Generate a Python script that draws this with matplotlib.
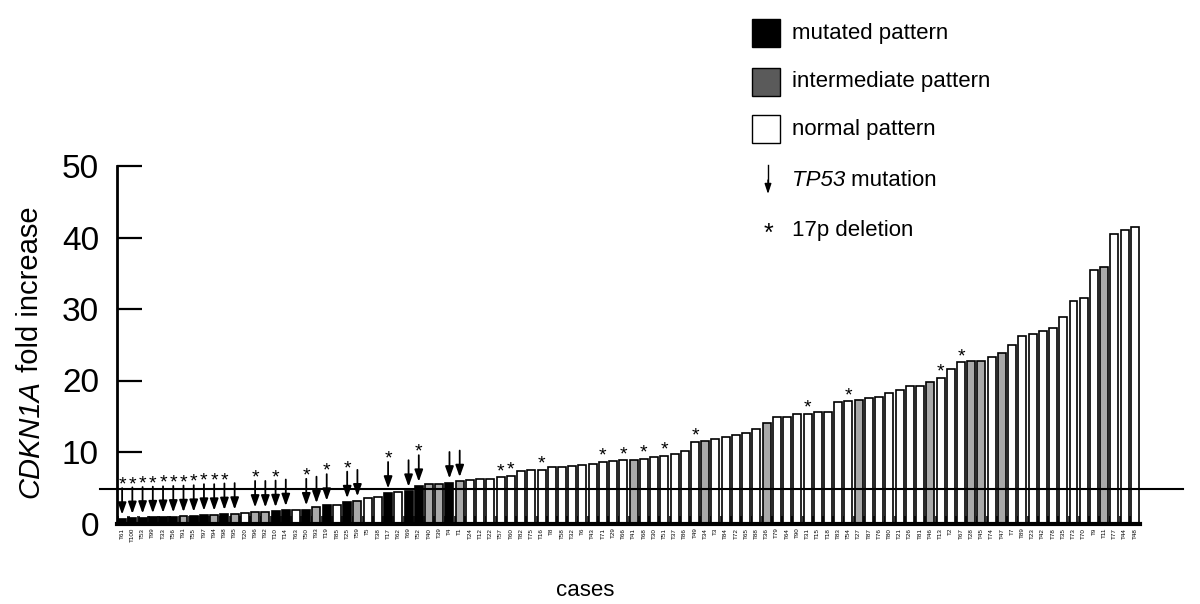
import matplotlib.pyplot as plt
from matplotlib.patches import Rectangle

plt.rcParams['font.family'] = ['Liberation Sans', 'DejaVu Sans']

# cases, ordered by fold increase
cases = ['T61', 'T100', 'T53', 'T99', 'T33', 'T56', 'T91', 'T55', 'T97', 'T94',
         'T98', 'T95', 'T20', 'T96', 'T92', 'T10', 'T14', 'T63', 'T50', 'T93',
         'T19', 'T85', 'T25', 'T59', 'T5', 'T38', 'T17', 'T62', 'T69', 'T52',
         'T40', 'T39', 'T4', 'T1', 'T24', 'T12', 'T22', 'T57', 'T60', 'T82',
         'T75', 'T16', 'T8', 'T58', 'T32', 'T6', 'T43', 'T71', 'T29', 'T66',
         'T41', 'T68', 'T30', 'T51', 'T37', 'T86', 'T49', 'T34', 'T3', 'T84',
         'T72', 'T65', 'T88', 'T36', 'T79', 'T64', 'T90', 'T31', 'T15', 'T18',
         'T83', 'T54', 'T27', 'T87', 'T76', 'T80', 'T21', 'T26', 'T81', 'T46',
         'T13', 'T2', 'T67', 'T28', 'T45', 'T74', 'T47', 'T7', 'T89', 'T23',
         'T42', 'T78', 'T35', 'T73', 'T70', 'T9', 'T11', 'T77', 'T44', 'T48']

fold = [0.65, 0.75, 0.8, 0.85, 0.9, 0.95, 1.0, 1.05, 1.2, 1.2,
        1.3, 1.35, 1.45, 1.65, 1.65, 1.7, 1.85, 1.85, 1.95, 2.25,
        2.6, 2.65, 2.95, 3.2, 3.5, 3.7, 4.3, 4.35, 4.55, 5.25,
        5.5, 5.5, 5.7, 5.9, 6.05, 6.2, 6.2, 6.45, 6.65, 7.35,
        7.5, 7.5, 7.85, 7.95, 8.0, 8.15, 8.3, 8.65, 8.7, 8.85,
        8.9, 9.05, 9.3, 9.5, 9.7, 10.1, 11.4, 11.5, 11.8, 12.05,
        12.4, 12.65, 13.2, 14.0, 14.85, 14.9, 15.25, 15.3, 15.55, 15.6,
        17.05, 17.1, 17.25, 17.6, 17.65, 18.3, 18.7, 19.2, 19.3, 19.8,
        20.4, 21.6, 22.55, 22.7, 22.7, 23.25, 23.9, 24.95, 26.25, 26.5,
        26.95, 27.3, 28.85, 31.1, 31.6, 35.4, 35.85, 40.5, 41.05, 41.5]

mutated = ['T61', 'T100', 'T53', 'T99', 'T33', 'T56', 'T55', 'T97', 'T98', 'T10',
           'T14', 'T50', 'T19', 'T25', 'T17', 'T69', 'T52', 'T4']
intermediate = ['T91', 'T94', 'T95', 'T96', 'T92', 'T93', 'T59', 'T40', 'T39', 'T1',
                'T41', 'T34', 'T36', 'T27', 'T46', 'T28', 'T45', 'T47', 'T11']

tp53_mut = ['T61', 'T100', 'T53', 'T99', 'T33', 'T56', 'T91', 'T55', 'T97', 'T94',
            'T98', 'T95', 'T96', 'T92', 'T10', 'T14', 'T50', 'T93', 'T19', 'T25',
            'T59', 'T17', 'T69', 'T52', 'T4', 'T1']
del17p = ['T61', 'T100', 'T53', 'T99', 'T33', 'T56', 'T91', 'T55', 'T97', 'T94',
          'T98', 'T96', 'T10', 'T50', 'T19', 'T25', 'T17', 'T52', 'T57', 'T60',
          'T16', 'T71', 'T66', 'T68', 'T51', 'T49', 'T31', 'T54', 'T13', 'T67']

calibrator = 1.1
cutoff = 4.8

fig = plt.figure(figsize=(12, 6.04), dpi=100)
ax = fig.add_axes([117 / 1200, 1 - 523.5 / 604, 1023 / 1200, 357.5 / 604])

x = list(range(len(cases)))
colors = []
for c in cases:
    if c in mutated:
        colors.append('black')
    elif c in intermediate:
        colors.append('#a9a9a9')
    else:
        colors.append('white')

ax.bar([i - 0.42 for i in x], [calibrator] * len(x), width=0.3,
       color='#3a3a3a', zorder=1)
ax.bar(x, fold, width=0.78, color=colors, edgecolor='black', linewidth=1.2, zorder=2)

# cut-off line
ax.plot([-0.017, 1.042], [cutoff, cutoff], color='black', lw=1.5,
        transform=ax.get_yaxis_transform(), clip_on=False, zorder=3)

for i, c in enumerate(cases):
    v = fold[i]
    if c in tp53_mut:
        ax.annotate('', xy=(i, v + 0.6), xytext=(i, v + 4.3),
                    arrowprops=dict(arrowstyle='-|>,head_length=0.7,head_width=0.25',
                                    color='black', lw=1.3, shrinkA=0, shrinkB=0),
                    zorder=4)
        if c in del17p:
            ax.text(i, v + 4.7, '*', ha='center', va='center', fontsize=14, zorder=4)
    elif c in del17p:
        ax.text(i, v + 0.8, '*', ha='center', va='center', fontsize=14, zorder=4)

ax.set_xlim(-0.5, len(cases) - 0.5)
ax.set_ylim(0, 50)
ax.set_yticks([0, 10, 20, 30, 40, 50])
ax.tick_params(axis='y', direction='in', length=18, width=1.6, labelsize=24, pad=13)
ax.set_xticks(x)
ax.set_xticklabels(cases, rotation=90, fontsize=4.5)
ax.tick_params(axis='x', length=0, pad=3)

for s in ['top', 'right']:
    ax.spines[s].set_visible(False)
ax.spines['left'].set_linewidth(2)
ax.spines['bottom'].set_linewidth(3)

# y label: italic gene name followed by plain text
yl1 = fig.text(30 / 1200, 1 - 498 / 604, 'CDKN1A', rotation=90, fontsize=21,
               fontstyle='italic', ha='center', va='bottom')
ax.annotate(' fold increase', xy=(0, 1), xycoords=yl1, rotation=90, fontsize=21,
            ha='left', va='bottom', annotation_clip=False)

fig.text(585 / 1200, 1 - 590 / 604, 'cases', ha='center', va='center', fontsize=16)

# legend
legend_items = [('mutated pattern', 'black'), ('intermediate pattern', '#5a5a5a'),
                ('normal pattern', 'white')]
for k, (name, col) in enumerate(legend_items):
    yc = [33, 82, 129][k]
    fig.patches.append(Rectangle((752 / 1200, 1 - (yc + 14) / 604), 28 / 1200, 28 / 604,
                                 facecolor=col, edgecolor='black', lw=1.0,
                                 transform=fig.transFigure))
    fig.text(792 / 1200, 1 - yc / 604, name, ha='left', va='center', fontsize=16)

fig.add_artist(plt.Line2D([768 / 1200, 768 / 1200], [1 - 165 / 604, 1 - 188 / 604],
                          color='black', lw=1.0))
ax.annotate('', xy=(768 / 1200, 1 - 194 / 604), xytext=(768 / 1200, 1 - 180 / 604),
            xycoords='figure fraction',
            arrowprops=dict(arrowstyle='-|>,head_length=0.6,head_width=0.2',
                            color='black', lw=1.0, shrinkA=0, shrinkB=0))
tp = fig.text(792 / 1200, 1 - 180 / 604, 'TP53', ha='left', va='center', fontsize=16,
              fontstyle='italic')
ax.annotate(' mutation', xy=(1, 0), xycoords=tp, ha='left', va='bottom', fontsize=16,
            annotation_clip=False)
fig.text(768 / 1200, 1 - 234 / 604, '*', ha='center', va='center', fontsize=18)
fig.text(792 / 1200, 1 - 230 / 604, '17p deletion', ha='left', va='center', fontsize=16)

fig.savefig('out.png', dpi=100)
